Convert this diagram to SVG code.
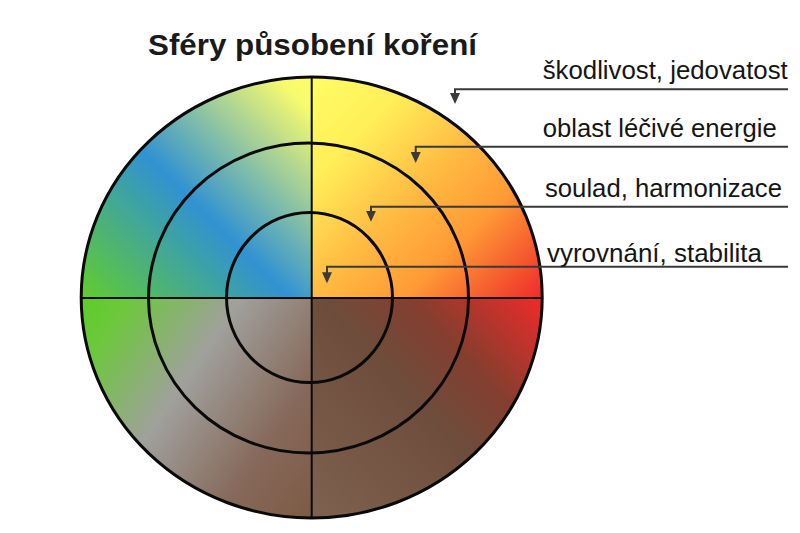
<svg xmlns="http://www.w3.org/2000/svg" width="800" height="533" viewBox="0 0 800 533">
  <style>
    .title { font-family: "Liberation Sans", Arial, sans-serif; font-weight: bold; font-size: 30px; fill: #1a1a1a; }
    .label { font-family: "Liberation Sans", Arial, sans-serif; font-size: 25px; fill: #151515; }
    .ring { fill: none; stroke: #0a0a0a; stroke-width: 3; }
    .axis { stroke: #0a0a0a; stroke-width: 2; }
    .leader { fill: none; stroke: #3a3a3a; stroke-width: 2; marker-end: url(#arrow); }
  </style>
  <defs>
    <marker id="arrow" viewBox="0 0 11 10" refX="5" refY="5" markerWidth="11" markerHeight="10" markerUnits="userSpaceOnUse" orient="auto">
      <path d="M0,0 L11,5 L0,10 z" fill="#3a3a3a"/>
    </marker>
    <clipPath id="disc">
      <ellipse cx="311.7" cy="297.5" rx="230.5" ry="220.5"/>
    </clipPath>
    <linearGradient id="gTR" gradientUnits="userSpaceOnUse" x1="312" y1="67" x2="542" y2="298">
      <stop offset="0" stop-color="#ffff66"/>
      <stop offset="0.25" stop-color="#ffee58"/>
      <stop offset="0.5" stop-color="#ffba42"/>
      <stop offset="0.7" stop-color="#ff9a35"/>
      <stop offset="1" stop-color="#ee2a2a"/>
    </linearGradient>
    <linearGradient id="gTL" gradientUnits="userSpaceOnUse" x1="312" y1="67" x2="82" y2="298">
      <stop offset="0" stop-color="#ffff66"/>
      <stop offset="0.1" stop-color="#f6fa6e"/>
      <stop offset="0.55" stop-color="#3092d2"/>
      <stop offset="1" stop-color="#62cc2e"/>
    </linearGradient>
    <linearGradient id="gBL" gradientUnits="userSpaceOnUse" x1="82" y1="298" x2="342" y2="474">
      <stop offset="0" stop-color="#5ccc2a"/>
      <stop offset="0.12" stop-color="#6cc83a"/>
      <stop offset="0.42" stop-color="#a0a09c"/>
      <stop offset="0.75" stop-color="#86695a"/>
      <stop offset="1" stop-color="#7d5a45"/>
    </linearGradient>
    <linearGradient id="gBR" gradientUnits="userSpaceOnUse" x1="312" y1="518" x2="542" y2="298">
      <stop offset="0" stop-color="#7e6250"/>
      <stop offset="0.5" stop-color="#6e4c3c"/>
      <stop offset="0.7" stop-color="#853e2e"/>
      <stop offset="1" stop-color="#f02a2a"/>
    </linearGradient>
  </defs>

  <rect width="800" height="533" fill="#ffffff"/>

  <g id="title">
    <text class="title" x="148" y="55" textLength="329" lengthAdjust="spacingAndGlyphs">Sféry působení koření</text>
  </g>

  <g id="disc-fill" clip-path="url(#disc)">
    <rect x="311.7" y="70" width="235" height="228" fill="url(#gTR)"/>
    <rect x="76" y="70" width="235.7" height="228" fill="url(#gTL)"/>
    <rect x="76" y="298" width="235.7" height="225" fill="url(#gBL)"/>
    <rect x="311.7" y="298" width="235" height="225" fill="url(#gBR)"/>
  </g>

  <g id="rings">
    <ellipse id="ring-inner" class="ring" cx="309.5" cy="297.5" rx="83" ry="85"/>
    <ellipse id="ring-middle" class="ring" cx="308.5" cy="298" rx="160" ry="155"/>
    <line class="axis" x1="311.7" y1="77" x2="311.7" y2="518"/>
    <line class="axis" x1="81" y1="298" x2="542" y2="298"/>
    <ellipse id="ring-outer" class="ring" cx="311.7" cy="297.5" rx="230.5" ry="220.5"/>
  </g>

  <g id="connectors">
    <path class="leader" d="M788 89.3 H455 V98"/>
    <path class="leader" d="M788 146.7 H415.7 V157"/>
    <path class="leader" d="M788 206.7 H371 V215.7"/>
    <path class="leader" d="M788 266.7 H327 V277.3"/>
  </g>

  <g id="label-1">
    <text class="label" x="542.7" y="79.3" textLength="245" lengthAdjust="spacingAndGlyphs">škodlivost, jedovatost</text>
  </g>
  <g id="label-2">
    <text class="label" x="542.7" y="137.3" textLength="234" lengthAdjust="spacingAndGlyphs">oblast léčivé energie</text>
  </g>
  <g id="label-3">
    <text class="label" x="545" y="196.7" textLength="237" lengthAdjust="spacingAndGlyphs">soulad, harmonizace</text>
  </g>
  <g id="label-4">
    <text class="label" x="547" y="261.7" textLength="215" lengthAdjust="spacingAndGlyphs">vyrovnání, stabilita</text>
  </g>
</svg>
